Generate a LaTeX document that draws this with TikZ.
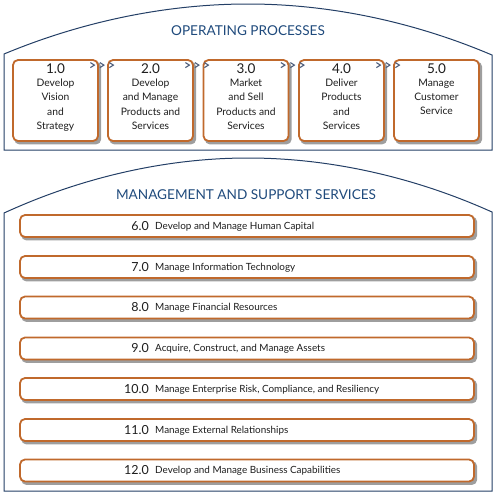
\documentclass[tikz,border=0pt]{standalone}
\usepackage{fontspec}
\setmainfont{Lato}
\usetikzlibrary{calc,backgrounds}
\definecolor{navy}{HTML}{243F66}
\definecolor{ttl}{HTML}{1F4A7C}
\definecolor{brd}{HTML}{C0692C}
\definecolor{txt}{HTML}{1E1E1E}
\definecolor{chev}{HTML}{4D5E7C}
\tikzset{
  frame/.style={draw=navy, line width=1pt},
  shadowfill/.style={fill=black!38, rounded corners=5pt},
  procbox/.style={draw=brd, line width=1.8pt, fill=white, rounded corners=5pt,
    minimum width=85pt, minimum height=81pt, inner sep=0pt},
  procnum/.style={font=\fontsize{13.5}{15}\selectfont, text=txt, inner sep=0pt},
  proctxt/.style={font=\fontsize{10.3}{14.4}\selectfont, text=txt, align=center, inner sep=0pt},
  barbox/.style={draw=brd, line width=1.8pt, fill=white, rounded corners=5pt,
    minimum width=454pt, minimum height=22pt, inner sep=0pt},
  barnum/.style={font=\fontsize{12.5}{14}\selectfont, text=txt, inner sep=0pt, anchor=east},
  bartxt/.style={font=\fontsize{9.9}{11}\selectfont, text=txt, inner sep=0pt, anchor=west},
  title/.style={font=\fontsize{13.6}{16}\selectfont, text=ttl, inner sep=0pt},
  chevron/.style={draw=chev, line width=1.1pt},
}
\newcommand{\chevs}[1]{%
  \foreach \dx in {0,9.5,19}{%
    \draw[chevron] ($(#1)+(\dx-2.5,-2.5)$) -- ($(#1)+(\dx+1.5,0)$) -- ($(#1)+(\dx-2.5,2.5)$);}}
\newcommand{\boxshadow}[1]{%
  \fill[shadowfill] ($(#1.north west)+(2.2,2.5)$) rectangle ($(#1.south east)+(2.2,2.5)$);}
\begin{document}
\begin{tikzpicture}[x=1pt,y=-1pt]
\useasboundingbox (0,0) rectangle (495,496);
% top frame
\draw[frame] (4,150) -- (4,54) parabola bend (248,4) (492,55) -- (492,150) -- cycle;
\node[title] (t1) at (248,31) {OPERATING PROCESSES};
% process boxes
\foreach \i/\x in {1/55.5, 2/150.5, 3/246, 4/341.5, 5/436.5} {
  \node[procbox] (p\i) at (\x,100.5) {};
}
\node[procnum, anchor=north] (n1) at ($(p1.north)+(0,4.3)$) {1.0};
\node[proctxt, anchor=north] (d1) at ($(p1.north)+(0,19.5)$) {Develop\\Vision\\and\\Strategy};
\node[procnum, anchor=north] (n2) at ($(p2.north)+(0,4.3)$) {2.0};
\node[proctxt, anchor=north] (d2) at ($(p2.north)+(0,19.5)$) {Develop\\and Manage\\Products and\\Services};
\node[procnum, anchor=north] (n3) at ($(p3.north)+(0,4.3)$) {3.0};
\node[proctxt, anchor=north] (d3) at ($(p3.north)+(0,19.5)$) {Market\\and Sell\\Products and\\Services};
\node[procnum, anchor=north] (n4) at ($(p4.north)+(0,4.3)$) {4.0};
\node[proctxt, anchor=north] (d4) at ($(p4.north)+(0,19.5)$) {Deliver\\Products\\and\\Services};
\node[procnum, anchor=north] (n5) at ($(p5.north)+(0,4.3)$) {5.0};
\node[proctxt, anchor=north] (d5) at ($(p5.north)+(0,19.5)$) {Manage\\Customer\\Service};
% chevrons
\foreach \i in {1,2,3,4} {
  \coordinate (c\i) at ($(p\i.north east)+(-6,6)$);
  \chevs{c\i}
}
% bottom frame
\draw[frame] (4,491) -- (4,213) parabola bend (248,158) (492,212) -- (492,491) -- cycle;
\node[title] (t2) at (246,195) {MANAGEMENT AND SUPPORT SERVICES};
\foreach \i/\y/\d in {6/226/Develop and Manage Human Capital,
  7/267/Manage Information Technology,
  8/307.5/Manage Financial Resources,
  9/348.5/{Acquire, Construct, and Manage Assets},
  10/389/{Manage Enterprise Risk, Compliance, and Resiliency},
  11/430/Manage External Relationships,
  12/470.5/Develop and Manage Business Capabilities} {
  \node[barbox] (s\i) at (247,\y) {};
  \node[barnum] (sn\i) at (149,\y) {\i.0};
  \node[bartxt] (sd\i) at (155,\y+0.3) {\d};
}
% shadows
\begin{scope}[on background layer]
  \foreach \i in {1,...,5} {\boxshadow{p\i}}
  \foreach \i in {6,...,12} {\boxshadow{s\i}}
\end{scope}
\end{tikzpicture}
\end{document}
